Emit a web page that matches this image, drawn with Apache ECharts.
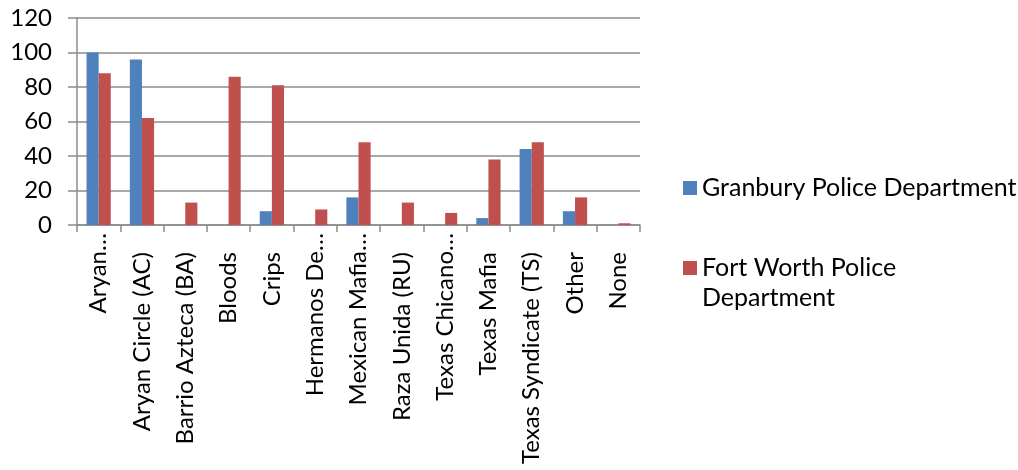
<!DOCTYPE html>
<html>
<head>
<meta charset="utf-8">
<title>Gang affiliations by department</title>
<script src="https://cdn.jsdelivr.net/npm/echarts@6/dist/echarts.min.js"></script>
<style>
  html, body {
    margin: 0;
    padding: 0;
    background: #fff;
  }
  #chart {
    width: 1018px;
    height: 470px;
  }
</style>
</head>
<body>
<div id="chart"></div>
<script>
// category labels as printed on the axis (long ones are cut off in the original)
const categories = [
  "Aryan…", "Aryan Circle (AC)", "Barrio Azteca (BA)", "Bloods", "Crips",
  "Hermanos De…", "Mexican Mafia…", "Raza Unida (RU)", "Texas Chicano…",
  "Texas Mafia", "Texas Syndicate (TS)", "Other", "None"
];
const granbury = [100, 96, 0, 0, 8, 0, 16, 0, 0, 4, 44, 8, 0];
const fortWorth = [88, 62, 13, 86, 81, 9, 48, 13, 7, 38, 48, 16, 1];
const seriesNames = ["Granbury Police Department", "Fort Worth Police Department"];
const yTicks = { min: 0, max: 120, interval: 20 };

const font = "Lato";
const grey = "#8c8c8c";

let chart = echarts.init(document.getElementById("chart"));
chart.setOption({
  animation: false,
  textStyle: { fontFamily: font },
  grid: { left: 77, right: 378, top: 18, bottom: 245 },
  legend: {
    orient: "vertical",
    left: 678,
    top: 168,
    itemGap: 20,
    itemWidth: 14,
    itemHeight: 14,
    icon: "rect",
    data: seriesNames,
    textStyle: { fontSize: 25, lineHeight: 30, color: "#000", fontFamily: font },
    // the second entry wraps in the original; keep the square on its first line
    formatter: name => name === seriesNames[1]
      ? " \nFort Worth Police\nDepartment"
      : name
  },
  xAxis: {
    type: "category",
    data: categories.map(c => c.endsWith("…")
      ? c
      : { value: c, textStyle: { padding: [0, 19, 0, 0] } }),
    axisLine: { lineStyle: { color: grey, width: 1.5 } },
    axisTick: { show: true, length: 7, interval: 0, lineStyle: { color: grey, width: 1.5 } },
    axisLabel: {
      interval: 0,
      rotate: 90,
      margin: 8,
      fontSize: 24,
      color: "#000",
      fontFamily: font
    }
  },
  yAxis: {
    type: "value",
    min: yTicks.min,
    max: yTicks.max,
    interval: yTicks.interval,
    axisLine: { show: true, lineStyle: { color: grey, width: 1.5 } },
    axisTick: { show: true, length: 9, lineStyle: { color: grey, width: 1.5 } },
    splitLine: { lineStyle: { color: grey, width: 1.5 } },
    axisLabel: { margin: 25, fontSize: 24, color: "#000", fontFamily: font }
  },
  series: [
    {
      name: seriesNames[0],
      type: "bar",
      data: granbury,
      barGap: "0%",
      barCategoryGap: "44%",
      itemStyle: { color: "#4f81bd" }
    },
    {
      name: seriesNames[1],
      type: "bar",
      data: fortWorth,
      barGap: "0%",
      barCategoryGap: "44%",
      itemStyle: { color: "#c0504d" }
    }
  ]
});
</script>
</body>
</html>
